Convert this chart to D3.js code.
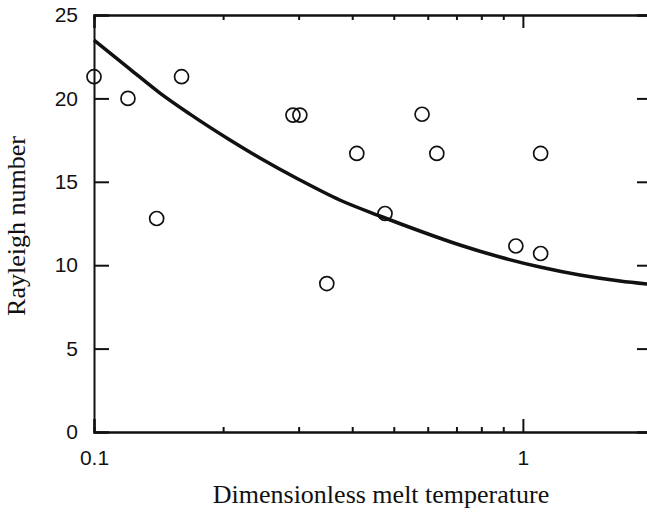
<!DOCTYPE html>
<html>
<head>
<meta charset="utf-8">
<script src="https://cdn.jsdelivr.net/npm/d3@7"></script>
<style>
  body { margin: 0; background: #fff; }
  svg { display: block; }
  .tick text { font-family: 'Liberation Sans', Arial, sans-serif; font-size: 21px; fill: #111; }
  .axis-title { font-family: 'Liberation Serif', 'Times New Roman', serif; font-size: 26px; fill: #111; }
</style>
</head>
<body>
<div class="chart"></div>
<script>
// measured points (open circles)
const pointX = [0.1, 0.12, 0.14, 0.16, 0.291, 0.302, 0.349, 0.41, 0.477, 0.582, 0.63, 0.963, 1.1, 1.1];
const pointY = [21.3, 20.0, 12.8, 21.3, 19.0, 19.0, 8.9, 16.7, 13.1, 19.05, 16.7, 11.15, 10.7, 16.7];

// theory curve
const curveX = [0.1, 0.1213, 0.1425, 0.1674, 0.2075, 0.2437, 0.302, 0.374, 0.464, 0.575, 0.713, 0.884, 1.096, 1.358, 1.683, 2.0];
const curveY = [23.5, 21.76, 20.32, 19.06, 17.51, 16.43, 15.11, 13.91, 12.95, 12.05, 11.21, 10.49, 9.89, 9.41, 9.05, 8.84];

const xMajorTicks = [0.1, 1];
const xMinorTicks = [0.2, 0.3, 0.4, 0.5, 0.6, 0.7, 0.8, 0.9];
const yTicks = [0, 5, 10, 15, 20, 25];

const points = pointX.map((x, i) => ({ x, y: pointY[i] }));
const curve = curveX.map((x, i) => ({ x, y: curveY[i] }));

const dimensions = {
  width: 647,
  height: 512,
  margin: { top: 15, right: -5, bottom: 80, left: 94 },
};
dimensions.boundedWidth = dimensions.width - dimensions.margin.left - dimensions.margin.right;
dimensions.boundedHeight = dimensions.height - dimensions.margin.top - dimensions.margin.bottom;

const svg = d3.select('.chart')
  .append('svg')
  .attr('width', dimensions.width)
  .attr('height', dimensions.height);

const bounds = svg.append('g')
  .attr('transform', `translate(${dimensions.margin.left},${dimensions.margin.top})`);

const xScale = d3.scaleLog()
  .domain([0.1, 2])
  .range([0, dimensions.boundedWidth]);

const yScale = d3.scaleLinear()
  .domain([0, 25])
  .range([dimensions.boundedHeight, 0]);

function styleAxis(g) {
  g.select('.domain').attr('stroke', '#111').attr('stroke-width', 2);
  g.selectAll('.tick line').attr('stroke', '#111').attr('stroke-width', 2);
}

// bottom axis: major with labels, minor without
bounds.append('g')
  .attr('transform', `translate(0,${dimensions.boundedHeight})`)
  .call(d3.axisBottom(xScale).tickValues(xMajorTicks).tickSize(-13).tickPadding(18)
    .tickFormat(d3.format('~g')))
  .call(styleAxis);
bounds.append('g')
  .attr('transform', `translate(0,${dimensions.boundedHeight})`)
  .call(d3.axisBottom(xScale).tickValues(xMinorTicks).tickSize(-5).tickFormat(''))
  .call(styleAxis);

// top axis
bounds.append('g')
  .call(d3.axisTop(xScale).tickValues(xMajorTicks).tickSize(-13).tickFormat(''))
  .call(styleAxis);
bounds.append('g')
  .call(d3.axisTop(xScale).tickValues(xMinorTicks).tickSize(-5).tickFormat(''))
  .call(styleAxis);

// left axis
bounds.append('g')
  .call(d3.axisLeft(yScale).tickValues(yTicks).tickSize(-15).tickPadding(16))
  .call(styleAxis);

// right axis
bounds.append('g')
  .attr('transform', `translate(${dimensions.boundedWidth},0)`)
  .call(d3.axisRight(yScale).tickValues(yTicks).tickSize(-15).tickFormat(''))
  .call(styleAxis);

// curve
const lineGenerator = d3.line()
  .x((d) => xScale(d.x))
  .y((d) => yScale(d.y))
  .curve(d3.curveMonotoneX);

bounds.append('path')
  .attr('d', lineGenerator(curve))
  .attr('fill', 'none')
  .attr('stroke', '#111')
  .attr('stroke-width', 3.5);

// points
bounds.selectAll('circle')
  .data(points)
  .join('circle')
  .attr('cx', (d) => xScale(d.x))
  .attr('cy', (d) => yScale(d.y))
  .attr('r', 7)
  .attr('fill', 'none')
  .attr('stroke', '#111')
  .attr('stroke-width', 1.7);

// axis titles
svg.append('text')
  .attr('class', 'axis-title')
  .attr('x', 381)
  .attr('y', 503)
  .attr('text-anchor', 'middle')
  .text('Dimensionless melt temperature');

svg.append('text')
  .attr('class', 'axis-title')
  .attr('transform', 'translate(25,226) rotate(-90)')
  .attr('text-anchor', 'middle')
  .text('Rayleigh number');
</script>
</body>
</html>
